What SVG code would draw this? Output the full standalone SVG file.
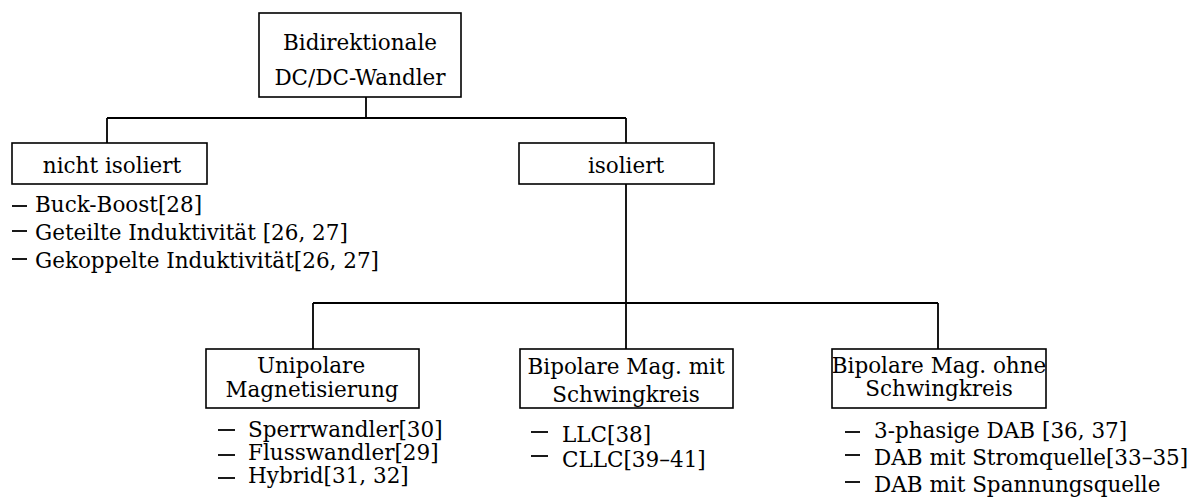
<svg xmlns="http://www.w3.org/2000/svg" width="1193" height="500" viewBox="0 0 1193 500">
<style>
.box{fill:#fff;stroke:#000;stroke-width:1.6}
.t{font-family:"DejaVu Serif","Liberation Serif",serif;font-size:21.5px;fill:#000}
.c{text-anchor:middle}
.edge{fill:none;stroke:#000;stroke-width:1.8}
.dash{stroke:#000;stroke-width:1.8}
</style>
<rect width="1193" height="500" fill="#fff"/>
<g id="connectors">
<path class="edge" d="M366,97 V118 M107,118 H626 M107,118 V143 M626,118 V143 M626,184 V303 M313,303 H938 M313,303 V349 M626,303 V349 M938,303 V349"/>
</g>
<g id="root">
<rect class="box" x="259" y="13" width="202" height="84"/>
<text class="t c" x="360" y="50">Bidirektionale</text>
<text class="t c" x="360" y="85">DC/DC-Wandler</text>
</g>
<g id="nicht-isoliert">
<rect class="box" x="12" y="143" width="195" height="41"/>
<text class="t c" x="112" y="173">nicht isoliert</text>
</g>
<g id="nicht-isoliert-list">
<line class="dash" x1="12" y1="206" x2="27" y2="206"/>
<line class="dash" x1="12" y1="231" x2="27" y2="231"/>
<line class="dash" x1="12" y1="259" x2="27" y2="259"/>
<text class="t" x="35" y="212">Buck-Boost[28]</text>
<text class="t" x="35" y="240">Geteilte Induktivität [26, 27]</text>
<text class="t" x="35" y="268">Gekoppelte Induktivität[26, 27]</text>
</g>
<g id="isoliert">
<rect class="box" x="519" y="143" width="195" height="41"/>
<text class="t c" x="626" y="173">isoliert</text>
</g>
<g id="unipolar">
<rect class="box" x="206" y="349" width="213" height="59"/>
<text class="t c" x="311" y="373">Unipolare</text>
<text class="t c" x="312" y="397">Magnetisierung</text>
</g>
<g id="unipolar-list">
<line class="dash" x1="218" y1="430" x2="235" y2="430"/>
<line class="dash" x1="218" y1="455" x2="235" y2="455"/>
<line class="dash" x1="218" y1="478" x2="235" y2="478"/>
<text class="t" x="248" y="437">Sperrwandler[30]</text>
<text class="t" x="248" y="460">Flusswandler[29]</text>
<text class="t" x="248" y="483">Hybrid[31, 32]</text>
</g>
<g id="bipolar-mit">
<rect class="box" x="520" y="349" width="213" height="59"/>
<text class="t c" x="626" y="374">Bipolare Mag. mit</text>
<text class="t c" x="626" y="402">Schwingkreis</text>
</g>
<g id="bipolar-mit-list">
<line class="dash" x1="531" y1="432" x2="548" y2="432"/>
<line class="dash" x1="531" y1="456" x2="548" y2="456"/>
<text class="t" x="562" y="442">LLC[38]</text>
<text class="t" x="562" y="467">CLLC[39–41]</text>
</g>
<g id="bipolar-ohne">
<rect class="box" x="832" y="349" width="214" height="59"/>
<text class="t c" x="939" y="373">Bipolare Mag. ohne</text>
<text class="t c" x="939" y="396">Schwingkreis</text>
</g>
<g id="bipolar-ohne-list">
<line class="dash" x1="845" y1="432" x2="860" y2="432"/>
<line class="dash" x1="845" y1="455" x2="860" y2="455"/>
<line class="dash" x1="845" y1="482" x2="860" y2="482"/>
<text class="t" x="874" y="438">3-phasige DAB [36, 37]</text>
<text class="t" x="874" y="465">DAB mit Stromquelle[33–35]</text>
<text class="t" x="874" y="492">DAB mit Spannungsquelle</text>
</g>
</svg>
